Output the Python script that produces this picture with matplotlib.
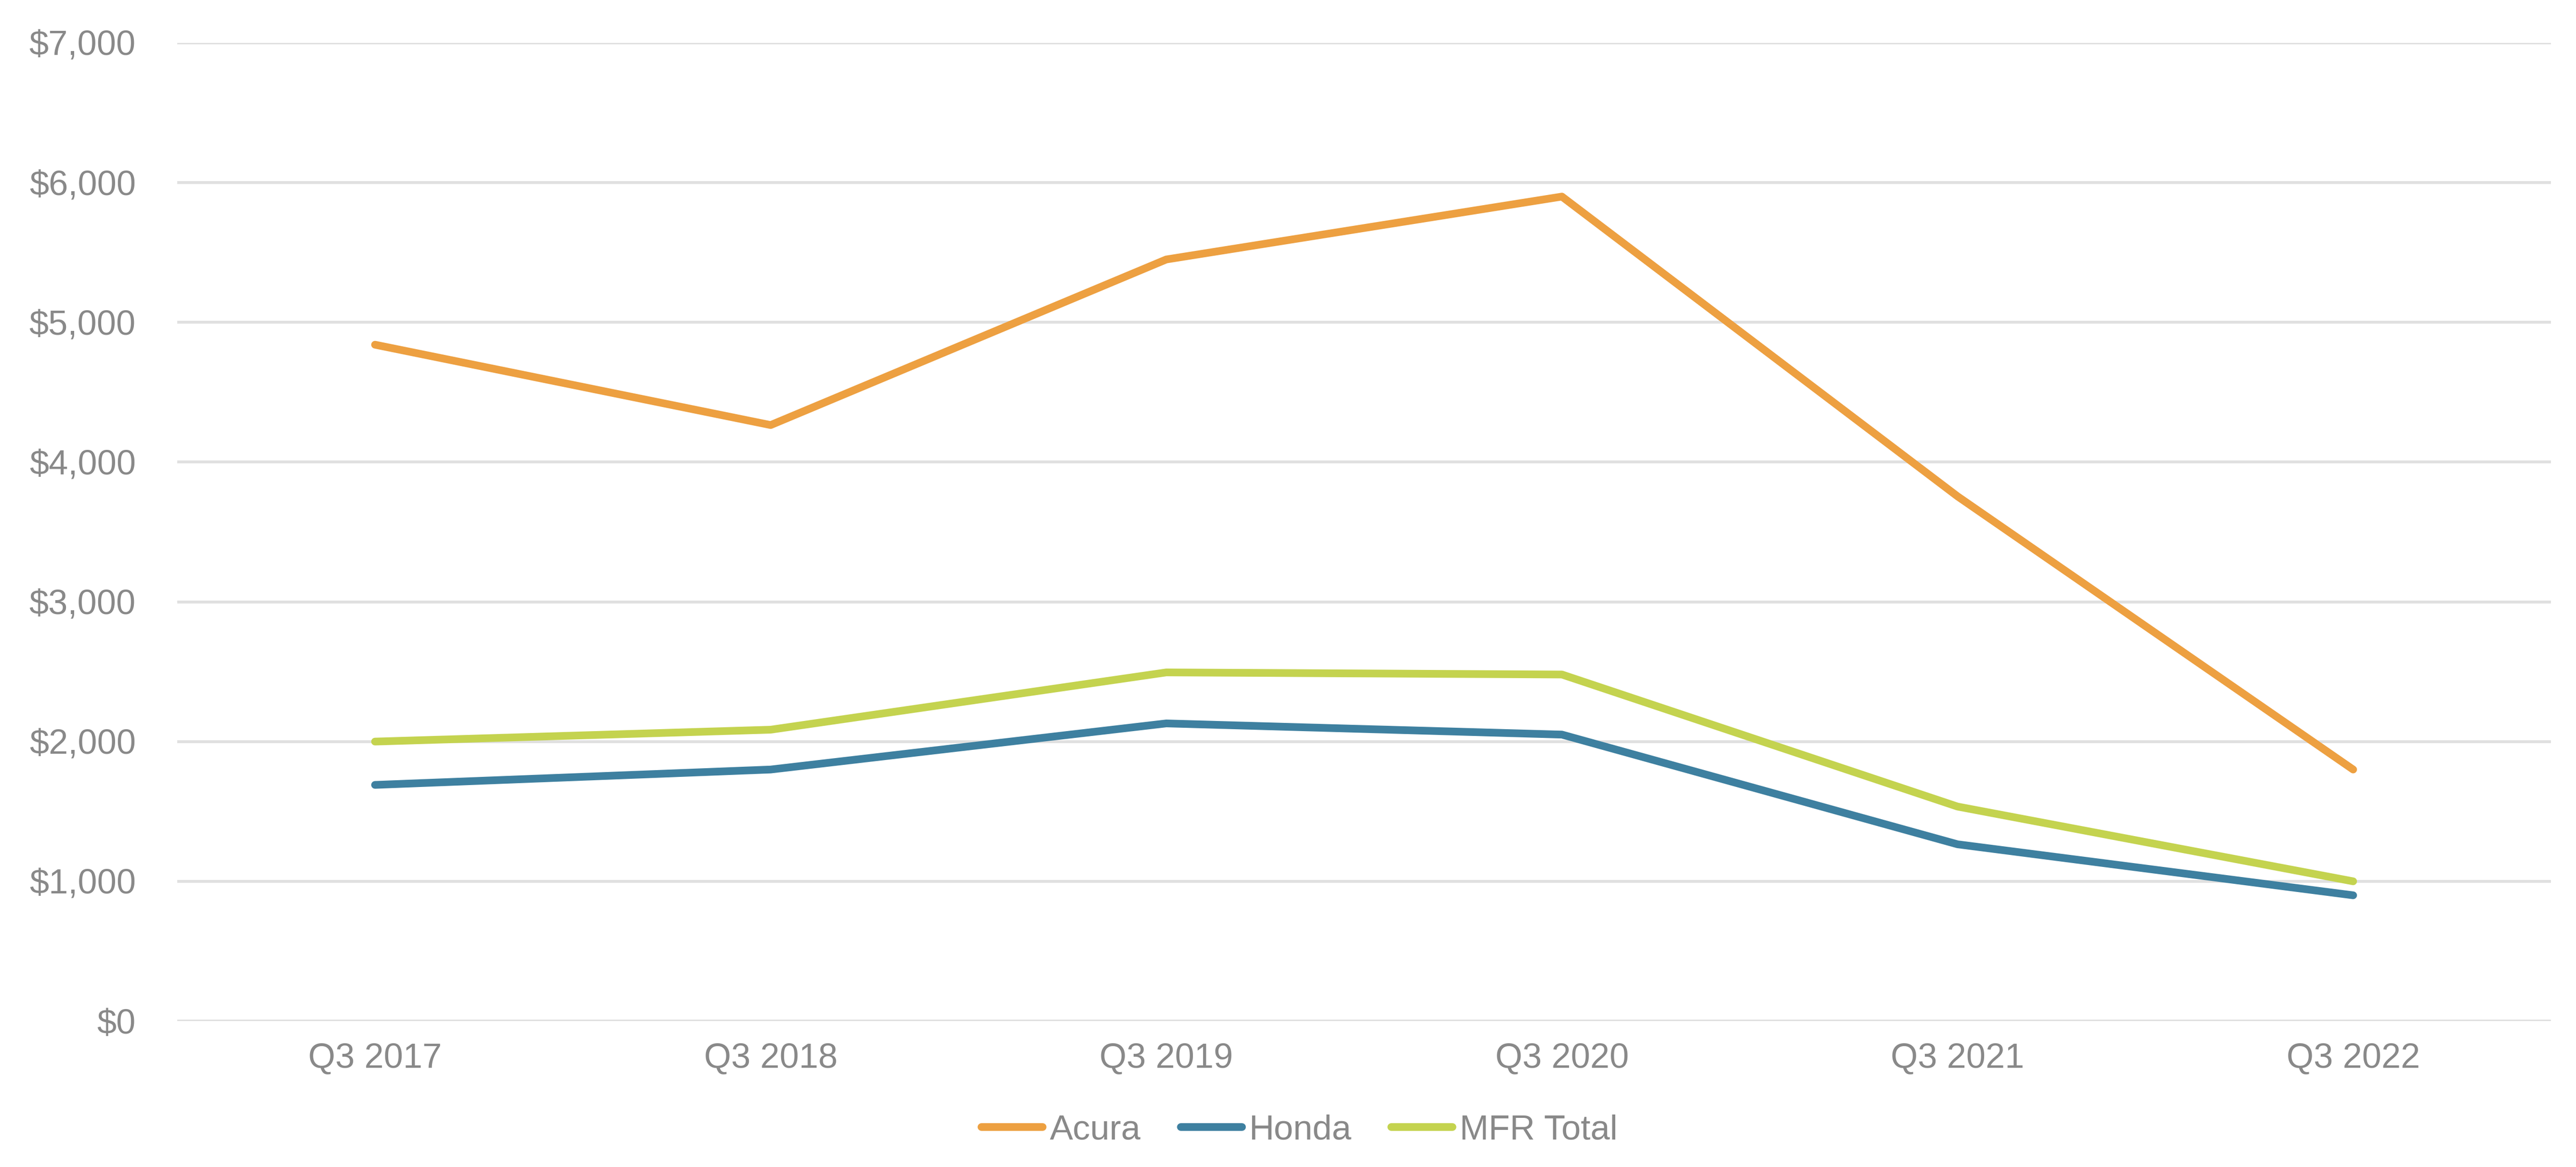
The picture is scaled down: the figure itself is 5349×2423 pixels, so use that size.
import matplotlib
matplotlib.use("Agg")
import matplotlib.pyplot as plt
from matplotlib.ticker import FuncFormatter

categories = ["Q3 2017", "Q3 2018", "Q3 2019", "Q3 2020", "Q3 2021", "Q3 2022"]
acura = [4840, 4265, 5450, 5900, 3755, 1800]
honda = [1690, 1800, 2130, 2050, 1265, 900]
mfr_total = [2000, 2085, 2495, 2480, 1535, 1000]
series_names = ["Acura", "Honda", "MFR Total"]
series_colors = ["#EDA041", "#3E80A0", "#C4D34F"]
y_ticks = [0, 1000, 2000, 3000, 4000, 5000, 6000, 7000]

plt.rcParams['font.family'] = ['Liberation Sans', 'DejaVu Sans']
text_color = "#898989"

fig = plt.figure(figsize=(53.49, 24.23), dpi=100)
ax = fig.add_axes([368/5349, 1-2120/2423, (5297-368)/5349, (2120-89)/2423])

x = list(range(len(categories)))
for name, vals, col in zip(series_names, [acura, honda, mfr_total], series_colors):
    ax.plot(x, vals, color=col, linewidth=11.5, label=name,
            solid_capstyle='round', solid_joinstyle='round', zorder=3)

ax.set_xlim(-0.5, len(categories) - 0.5)
ax.set_ylim(0, 7000)
ax.set_yticks(y_ticks)
ax.yaxis.set_major_formatter(FuncFormatter(lambda v, p: "${:,.0f}".format(v)))
ax.set_xticks(x)
ax.set_xticklabels(categories)
ax.tick_params(axis='both', length=0, labelsize=52, labelcolor=text_color)
ax.tick_params(axis='y', pad=62)
ax.tick_params(axis='x', pad=32)
ax.grid(axis='y', color="#E0E0E0", linewidth=4.3, zorder=0)
ax.set_axisbelow(True)
for s in ax.spines.values():
    s.set_visible(False)

leg = fig.legend(loc='center', bbox_to_anchor=(0.5045, 1-2347/2423), ncol=3,
                 frameon=False, fontsize=52, handlelength=1.76, handletextpad=0.2,
                 columnspacing=1.15, borderpad=0)
for t in leg.get_texts():
    t.set_color(text_color)

fig.savefig("out.png", dpi=100, facecolor="white")
